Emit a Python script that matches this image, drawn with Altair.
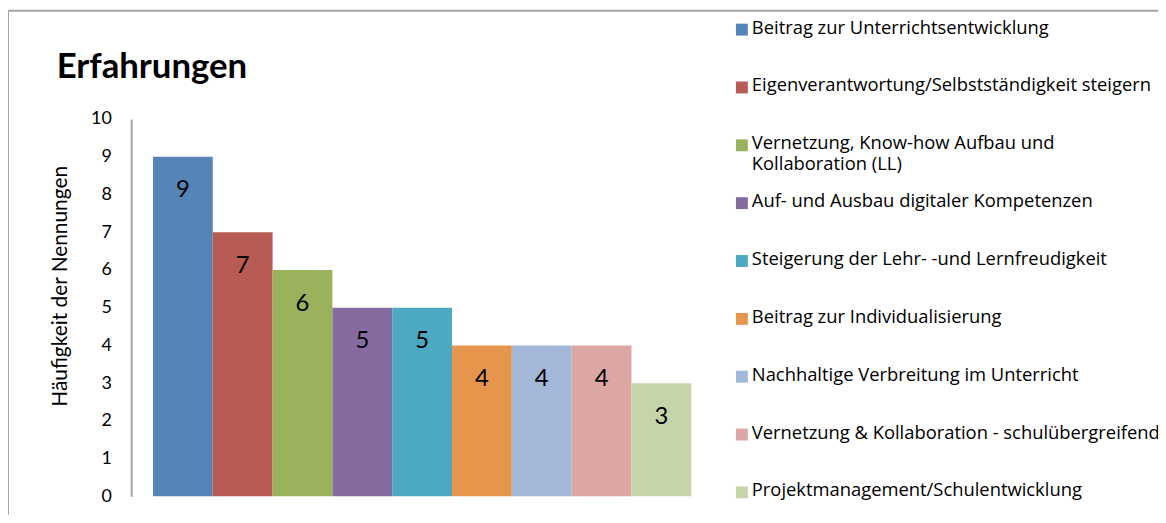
import altair as alt
import pandas as pd

categories = [
    "Beitrag zur Unterrichtsentwicklung",
    "Eigenverantwortung/Selbstständigkeit steigern",
    "Vernetzung, Know-how Aufbau und Kollaboration (LL)",
    "Auf- und Ausbau digitaler Kompetenzen",
    "Steigerung der Lehr- -und Lernfreudigkeit",
    "Beitrag zur Individualisierung",
    "Nachhaltige Verbreitung im Unterricht",
    "Vernetzung & Kollaboration - schulübergreifend",
    "Projektmanagement/Schulentwicklung",
]
values = [9, 7, 6, 5, 5, 4, 4, 4, 3]
colors = ["#5585B7", "#B95B55", "#9BB25C", "#856B9F", "#4DA9C1",
          "#E6964C", "#A3B7D8", "#DBA6A3", "#C6D5A9"]
legend_labels = [c.replace("Aufbau und ", "Aufbau und\n") for c in categories]

df = pd.DataFrame({"cat": categories, "value": values, "label": legend_labels})

FONT = "Lato"
LFONT = "Open Sans"
W, H = 586, 380

color_scale = alt.Scale(domain=categories, range=colors)
x_enc = alt.X("cat:N", sort=categories, axis=None,
              scale=alt.Scale(paddingInner=0, paddingOuter=0.365))
y_axis = alt.Axis(title="Häufigkeit der Nennungen", values=list(range(11)),
                  labelOverlap=False,
                  grid=False, ticks=False, domain=True, domainColor="#A6A6A6",
                  domainWidth=2, labelPadding=20, labelFont=FONT,
                  labelFontSize=18, labelColor="#000000",
                  titleFont=FONT, titleFontSize=21, titleFontWeight="normal",
                  titleColor="#000000", titlePadding=20, titleY=168)
y_enc = alt.Y("value:Q", scale=alt.Scale(domain=[0, 10]), axis=y_axis)

bars = alt.Chart(df).mark_bar().encode(
    x=x_enc,
    y=y_enc,
    color=alt.Color("cat:N", scale=color_scale, legend=None),
)

texts = alt.Chart(df).mark_text(dy=34, fontSize=24, font=FONT, color="#000000",
                                baseline="middle").encode(
    x=x_enc,
    y=y_enc,
    text=alt.Text("value:Q"),
)

main = alt.layer(bars, texts)

leg_y = alt.Y("cat:N", sort=categories, axis=None,
              scale=alt.Scale(domain=categories, range=[-90, 376], padding=0))

leg_sym = alt.Chart(df).mark_square(size=144, opacity=1).encode(
    x=alt.value(615),
    y=leg_y,
    color=alt.Color("cat:N", scale=color_scale, legend=None),
)

leg_txt = alt.Chart(df).mark_text(align="left", baseline="top", dy=-11, fontSize=18.5,
                                  font=LFONT, color="#000000", lineBreak="\n",
                                  lineHeight=21).encode(
    x=alt.value(625),
    y=leg_y,
    text="label:N",
)

legend = alt.layer(leg_sym, leg_txt)

border = alt.Chart(pd.DataFrame({"a": [0]})).mark_rect(
    fill=None, stroke="#A6A6A6", strokeWidth=2).encode(
    x=alt.value(-124), x2=alt.value(1100), y=alt.value(-109), y2=alt.value(450))

chart = alt.layer(border, main, legend).resolve_scale(
    x="independent", y="independent", color="shared"
).properties(
    width=W, height=H,
    autosize=alt.AutoSizeParams(type="none"),
    padding={"left": 124, "top": 110, "right": 448, "bottom": 17},
    title=alt.TitleParams("Erfahrungen", anchor="start", frame="group", dx=-75,
                          fontSize=35, font=FONT, fontWeight="bold", color="#000000",
                          offset=-76),
    background="white",
).configure_view(stroke=None)

chart.save("out.html", embed_options={"renderer": "svg", "actions": False})
